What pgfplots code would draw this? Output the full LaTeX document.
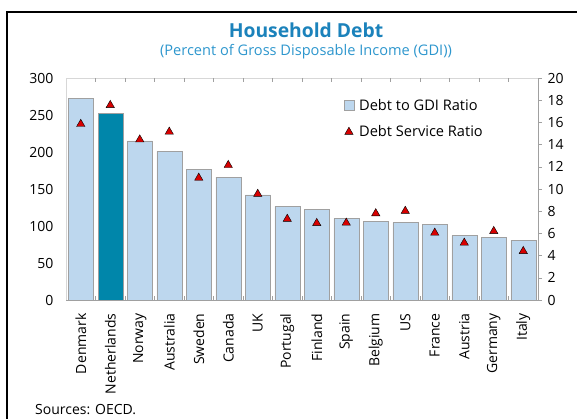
\documentclass[border=0pt]{standalone}
\usepackage{fontspec}
\setmainfont{Open Sans}
\usepackage{pgfplots}
\pgfplotsset{compat=1.18}
\definecolor{barblue}{RGB}{189,215,238}
\definecolor{nlblue}{RGB}{0,134,170}
\definecolor{titleblue}{RGB}{27,130,187}
\definecolor{subblue}{RGB}{45,150,205}
\definecolor{mred}{RGB}{215,0,0}
\definecolor{axgray}{RGB}{160,160,160}
\definecolor{boxgray}{RGB}{215,215,215}
\pgfplotsset{
  boxlegend/.style={legend image code/.code={\draw[fill=barblue, draw=axgray] (0pt,-5pt) rectangle (10pt,5pt);}},
  marklegend/.style={legend image code/.code={\draw[##1] plot coordinates {(5pt,0pt)};}},
}

\begin{document}
\begin{tikzpicture}[x=1pt,y=1pt]
\useasboundingbox (0,0) rectangle (577,419);
\draw[line width=1.6pt] (7,0) -- (7,407) -- (577,407);
\node[font=\fontsize{19.3}{22}\selectfont\bfseries, text=titleblue] at (306,389) {Household Debt};
\node[font=\fontsize{14.6}{17}\selectfont, text=subblue] at (306,367) {(Percent of Gross Disposable Income (GDI))};
\node[anchor=north west, inner sep=0pt, font=\fontsize{14}{16}\selectfont] at (35,15) {Sources: OECD.};

% debt to GDI ratio, left scale
\begin{axis}[
  at={(66pt,119pt)}, anchor=south west,
  scale only axis, width=472pt, height=222pt,
  xmin=-0.5, xmax=15.5, ymin=0, ymax=300,
  ytick={0,50,...,300},
  xtick={0,...,15},
  xticklabels={Denmark,Netherlands,Norway,Australia,Sweden,Canada,UK,Portugal,Finland,Spain,Belgium,US,France,Austria,Germany,Italy},
  x tick label style={rotate=90, anchor=east, xshift=-10pt},
  yticklabel style={xshift=-9pt},
  xtick style={draw=none}, ytick style={draw=none},
  extra x ticks={0.5,1.5,...,14.5},
  extra x tick labels={},
  extra x tick style={xtick style={draw=axgray}, major tick length=4pt, tick align=inside},
  axis line style={boxgray},
  tick label style={font=\fontsize{14}{16}\selectfont},
  /pgf/number format/assume math mode=true,
]
\addplot[ybar, bar width=25pt, bar shift=0pt, fill=barblue, draw=axgray] coordinates {
  (0,272.6) (2,215) (3,201) (4,176.6) (5,166) (6,142) (7,126.6) (8,122.5)
  (9,110) (10,106.3) (11,104.5) (12,102.2) (13,87) (14,85) (15,81)};
\addplot[ybar, bar width=25pt, bar shift=0pt, fill=nlblue, draw=axgray] coordinates {(1,252)};
\end{axis}

% debt service ratio, right scale
\begin{axis}[
  at={(66pt,119pt)}, anchor=south west,
  scale only axis, width=472pt, height=222pt,
  xmin=-0.5, xmax=15.5, ymin=0, ymax=20,
  axis y line*=right, axis x line*=bottom,
  xtick=\empty,
  ytick={0,2,...,20},
  tick align=outside, major tick length=4pt,
  ytick style={axgray},
  axis line style={axgray},
  yticklabel style={xshift=2pt},
  tick label style={font=\fontsize{14}{16}\selectfont},
  /pgf/number format/assume math mode=true,
  legend style={at={(0.588,0.915)}, anchor=north west, draw=none, fill=none,
    font=\fontsize{14.6}{17}\selectfont, row sep=10pt, inner sep=0pt,
    /tikz/every odd column/.append style={column sep=3pt}},
  legend cell align=left,
]
\addlegendimage{boxlegend}
\addlegendentry{Debt to GDI Ratio}
\addplot[only marks, mark=triangle*, mark size=4.8pt,
  mark options={fill=mred, draw=black, line width=0.4pt}, marklegend] coordinates {
  (0,15.85) (1,17.55) (2,14.45) (3,15.15) (4,11.0) (5,12.15) (6,9.55) (7,7.3)
  (8,6.92) (9,6.95) (10,7.8) (11,8.02) (12,6.05) (13,5.15) (14,6.2) (15,4.4)};
\addlegendentry{Debt Service Ratio}
\end{axis}
\end{tikzpicture}
\end{document}
